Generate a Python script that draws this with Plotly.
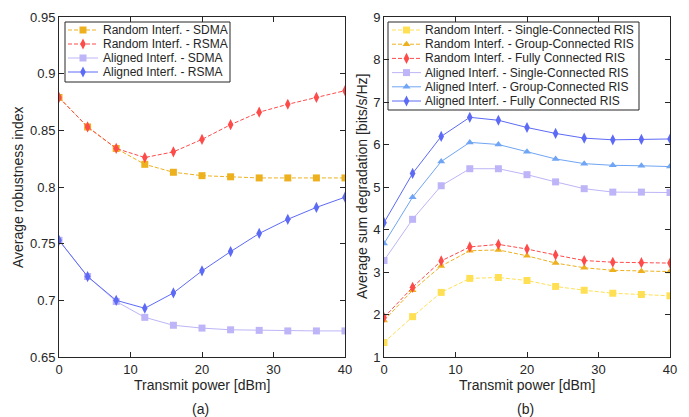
import plotly.graph_objects as go

power = [0, 4, 8, 12, 16, 20, 24, 28, 32, 36, 40]

# Panel (a): average robustness index
rand_sdma = [0.879, 0.853, 0.834, 0.820, 0.813, 0.810, 0.809, 0.808, 0.808, 0.808, 0.808]
rand_rsma = [0.879, 0.853, 0.834, 0.826, 0.831, 0.842, 0.855, 0.866, 0.873, 0.879, 0.885]
alig_sdma = [0.753, 0.721, 0.699, 0.685, 0.678, 0.6755, 0.674, 0.6735, 0.673, 0.673, 0.673]
alig_rsma = [0.753, 0.721, 0.700, 0.693, 0.7065, 0.726, 0.743, 0.759, 0.7715, 0.782, 0.791]

# Panel (b): average sum degradation
rand_single = [1.34, 1.95, 2.52, 2.85, 2.87, 2.80, 2.66, 2.57, 2.50, 2.47, 2.44]
rand_group = [1.86, 2.57, 3.14, 3.50, 3.52, 3.38, 3.21, 3.10, 3.04, 3.02, 3.01]
rand_fully = [1.93, 2.64, 3.26, 3.59, 3.65, 3.54, 3.40, 3.27, 3.23, 3.22, 3.21]
alig_single = [3.27, 4.24, 5.03, 5.43, 5.43, 5.29, 5.12, 4.96, 4.88, 4.88, 4.87]
alig_group = [3.67, 4.76, 5.60, 6.05, 6.00, 5.83, 5.66, 5.55, 5.51, 5.50, 5.48]
alig_fully = [4.16, 5.32, 6.19, 6.64, 6.57, 6.40, 6.26, 6.15, 6.11, 6.12, 6.13]

x_ticks = [0, 10, 20, 30, 40]
ya_ticks = [0.65, 0.7, 0.75, 0.8, 0.85, 0.9, 0.95]
ya_labels = ["0.65", "0.7", "0.75", "0.8", "0.85", "0.9", "0.95"]
yb_ticks = [1, 2, 3, 4, 5, 6, 7, 8, 9]

C_ORANGE = "#EDB120"
C_RED = "#FF4A4A"
C_LAV = "#BDB5F7"
C_BLUE = "#5D6AF6"
C_YELLOW = "#FFE055"
C_LBLUE = "#6FA5F4"

DASH = "4px,2px"
FONT = "Liberation Sans, Arial, sans-serif"
TXT = "#262626"
W, H = 689, 417

fig = go.Figure()

series = [
    # (x, y, name, color, dash, symbol, size, panel)
    (power, rand_sdma, "Random Interf. - SDMA", C_ORANGE, DASH, "square", 7, "a"),
    (power, rand_rsma, "Random Interf. - RSMA", C_RED, DASH, "diamond-tall", 8, "a"),
    (power, alig_sdma, "Aligned Interf. - SDMA", C_LAV, "solid", "square", 7, "a"),
    (power, alig_rsma, "Aligned Interf. - RSMA", C_BLUE, "solid", "diamond-tall", 8, "a"),
    (power, rand_single, "Random Interf. - Single-Connected RIS", C_YELLOW, DASH, "square", 7, "b"),
    (power, rand_group, "Random Interf. - Group-Connected RIS", C_ORANGE, DASH, "triangle-up", 7, "b"),
    (power, rand_fully, "Random Interf. - Fully Connected RIS", C_RED, DASH, "diamond-tall", 8, "b"),
    (power, alig_single, "Aligned Interf. - Single-Connected RIS", C_LAV, "solid", "square", 7, "b"),
    (power, alig_group, "Aligned Interf. - Group-Connected RIS", C_LBLUE, "solid", "triangle-up", 7, "b"),
    (power, alig_fully, "Aligned Interf. - Fully Connected RIS", C_BLUE, "solid", "diamond-tall", 8, "b"),
]

for x, y, name, color, dash, sym, sz, panel in series:
    xa, ya = ("x", "y") if panel == "a" else ("x2", "y2")
    fig.add_trace(go.Scatter(
        x=x, y=y, name=name, mode="lines+markers",
        line=dict(color=color, width=1, dash=dash),
        marker=dict(color=color, symbol=sym, size=sz, line=dict(width=0)),
        xaxis=xa, yaxis=ya, showlegend=False,
    ))

# Manual legends (pixel layout on an invisible overlay axis)
legend_boxes = {"a": (65, 22, 230, 82), "b": (388, 22, 639, 110)}
legend_rows = {"a": (30, 14.0, 68, 98, 101), "b": (30, 14.2, 392, 421, 423)}
shapes = []
annotations = []
counters = {"a": 0, "b": 0}
for x, y, name, color, dash, sym, sz, panel in series:
    r0, dr, lx0, lx1, tx = legend_rows[panel]
    i = counters[panel]
    counters[panel] += 1
    ry = r0 + i * dr
    shapes.append(dict(type="line", xref="x3", yref="y3", x0=lx0, x1=lx1, y0=ry, y1=ry,
                       line=dict(color=color, width=1, dash=dash), layer="above"))
    fig.add_trace(go.Scatter(x=[(lx0 + lx1) / 2], y=[ry], mode="markers",
                             marker=dict(color=color, symbol=sym, size=sz, line=dict(width=0)),
                             xaxis="x3", yaxis="y3", showlegend=False, hoverinfo="skip"))
    annotations.append(dict(x=tx, y=ry, xref="x3", yref="y3", text=name, showarrow=False,
                            xanchor="left", yanchor="middle",
                            font=dict(family=FONT, size=12, color=TXT)))
for p, (bx0, by0, bx1, by1) in legend_boxes.items():
    shapes.append(dict(type="rect", xref="x3", yref="y3", x0=bx0, x1=bx1, y0=by0, y1=by1,
                       line=dict(color=TXT, width=1), fillcolor="rgba(0,0,0,0)", layer="above"))

# Axis titles and panel labels, placed in pixel coordinates
titles = [
    ("Transmit power [dBm]", 202, 385, 0),
    ("Transmit power [dBm]", 527, 385, 0),
    ("Average robustness index", 18, 187, -90),
    ("Average sum degradation [bits/s/Hz]", 362, 187, -90),
    ("(a)", 200, 409, 0),
    ("(b)", 525, 409, 0),
]
for text, tx, ty, ang in titles:
    annotations.append(dict(x=tx, y=ty, xref="x3", yref="y3", text=text, showarrow=False,
                            xanchor="center", yanchor="middle", textangle=ang,
                            font=dict(family=FONT, size=14, color=TXT)))

axis_common = dict(
    showline=True, linecolor=TXT, linewidth=1, mirror="ticks",
    ticks="inside", ticklen=5, tickcolor=TXT, tickwidth=1,
    showgrid=False, zeroline=False, automargin=False,
    tickfont=dict(family=FONT, size=13, color=TXT),
)

yb = 1 - 357 / H
yt = 1 - 17 / H

fig.update_layout(
    width=W, height=H,
    margin=dict(l=0, r=0, t=0, b=0, autoexpand=False),
    paper_bgcolor="white", plot_bgcolor="rgba(0,0,0,0)",
    font=dict(family=FONT, color=TXT),
    showlegend=False,
    xaxis=dict(domain=[59 / W, 345 / W], range=[0, 40], tickvals=x_ticks, anchor="y", **axis_common),
    yaxis=dict(domain=[yb, yt], range=[0.65, 0.95], tickvals=ya_ticks, ticktext=ya_labels,
               anchor="x", **axis_common),
    xaxis2=dict(domain=[384 / W, 670 / W], range=[0, 40], tickvals=x_ticks, anchor="y2", **axis_common),
    yaxis2=dict(domain=[yb, yt], range=[1, 9], tickvals=yb_ticks, anchor="x2", **axis_common),
    xaxis3=dict(domain=[0, 1], range=[0, W], visible=False, anchor="y3", fixedrange=True),
    yaxis3=dict(domain=[0, 1], range=[H, 0], visible=False, anchor="x3", fixedrange=True),
    shapes=shapes,
    annotations=annotations,
)

fig.write_html(
    "out.html",
    config={"displayModeBar": False},
    post_script="document.body.style.margin='0px';document.body.style.padding='0px';"
                "document.documentElement.style.overflow='hidden';",
)
